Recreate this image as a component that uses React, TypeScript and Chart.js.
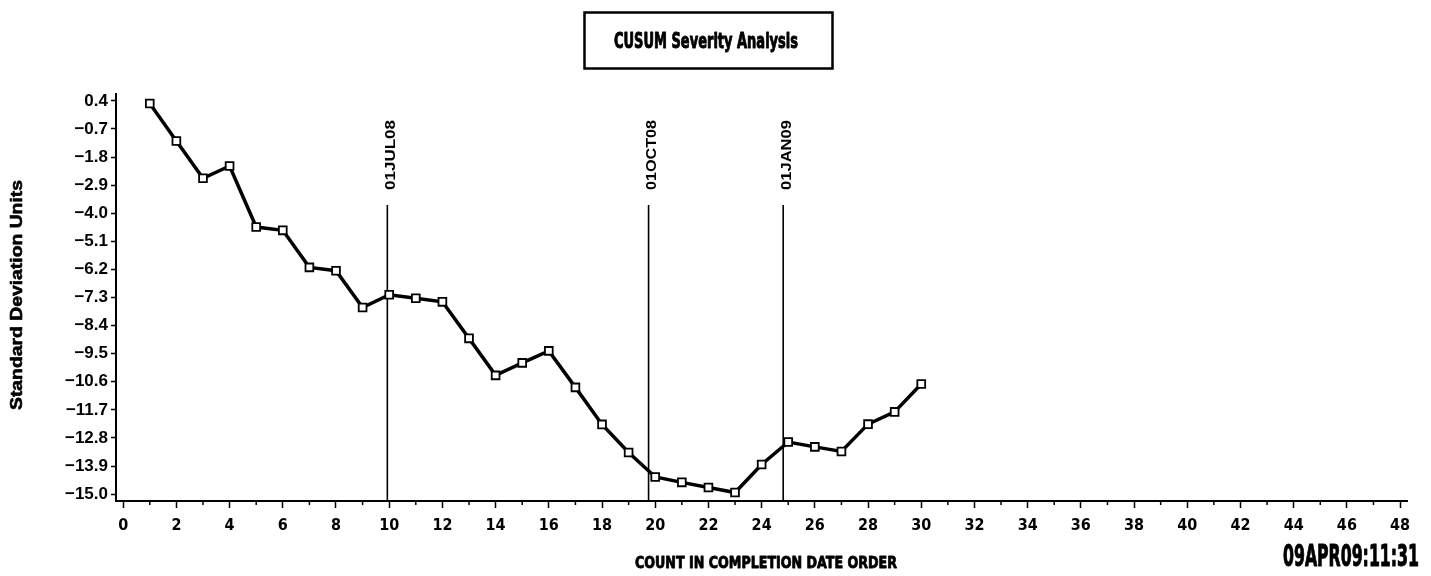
import React, { useEffect, useRef } from "react";
import { Chart, registerables } from "chart.js";

Chart.register(...registerables);

const COUNTS = [1, 2, 3, 4, 5, 6, 7, 8, 9, 10, 11, 12, 13, 14, 15, 16, 17, 18, 19, 20, 21, 22, 23, 24, 25, 26, 27, 28, 29, 30];
const CUSUM = [0.3, -1.17, -2.63, -2.15, -4.54, -4.67, -6.12, -6.25, -7.69, -7.19, -7.33, -7.47, -8.9, -10.35, -9.86, -9.39, -10.82, -12.27, -13.37, -14.33, -14.54, -14.74, -14.94, -13.84, -12.96, -13.15, -13.33, -12.26, -11.78, -10.69];
const Y_TICKS = [0.4, -0.7, -1.8, -2.9, -4.0, -5.1, -6.2, -7.3, -8.4, -9.5, -10.6, -11.7, -12.8, -13.9, -15.0];
const X_TICKS = Array.from({ length: 49 }, (_, i) => i);
const REF_POSITIONS = [9.93, 19.75, 24.81];
const REF_LABELS = ["01JUL08", "01OCT08", "01JAN09"];
const TITLE = "CUSUM Severity Analysis";
const X_TITLE = "COUNT IN COMPLETION DATE ORDER";
const Y_TITLE = "Standard Deviation Units";
const STAMP = "09APR09:11:31";

const NARROW = '"Liberation Sans Narrow", "DejaVu Sans Condensed", "Liberation Sans", sans-serif';
const SANS = '"Liberation Sans", Arial, sans-serif';

function fitText(ctx: CanvasRenderingContext2D, text: string, font: string, cx: number, cy: number, width: number, rot = 0, heavy = 0) {
  ctx.save();
  ctx.font = font;
  const w = ctx.measureText(text).width;
  ctx.translate(cx, cy);
  ctx.rotate(rot);
  ctx.scale(width / w, 1);
  ctx.textAlign = "center";
  ctx.textBaseline = "middle";
  ctx.fillStyle = "#000";
  ctx.fillText(text, 0, 0);
  if (heavy > 0) {
    ctx.lineWidth = heavy;
    ctx.strokeStyle = "#000";
    ctx.lineJoin = "round";
    ctx.strokeText(text, 0, 0);
  }
  ctx.restore();
}

const decor = {
  id: "decor",
  beforeDatasetsDraw(chart: any) {
    const ctx = chart.ctx as CanvasRenderingContext2D;
    const xs = chart.scales.x;
    const area = chart.chartArea;
    ctx.save();
    ctx.strokeStyle = "#000";
    ctx.lineWidth = 1.6;
    REF_POSITIONS.forEach((v, i) => {
      const px = xs.getPixelForValue(v);
      ctx.beginPath();
      ctx.moveTo(px, 205);
      ctx.lineTo(px, area.bottom);
      ctx.stroke();
      fitText(ctx, REF_LABELS[i], "bold 14px " + SANS, px + 3.5, 155, 70, -Math.PI / 2);
    });
    ctx.restore();
  },
  afterDraw(chart: any) {
    const ctx = chart.ctx as CanvasRenderingContext2D;
    const xs = chart.scales.x;
    const area = chart.chartArea;
    ctx.save();
    ctx.strokeStyle = "#000";
    ctx.lineWidth = 1.5;
    X_TICKS.forEach((v) => {
      if (v % 2 === 1) {
        const px = xs.getPixelForValue(v);
        ctx.beginPath();
        ctx.moveTo(px, area.bottom);
        ctx.lineTo(px, area.bottom + 4);
        ctx.stroke();
      }
    });
    ctx.lineWidth = 2.5;
    ctx.strokeRect(584.5, 12.5, 248, 56);
    fitText(ctx, TITLE, "bold 21px " + NARROW, 706, 43, 184, 0, 0.9);
    fitText(ctx, X_TITLE, "bold 16px " + NARROW, 766, 564, 262, 0, 0.8);
    fitText(ctx, Y_TITLE, "bold 16px " + SANS, 18, 295, 230, -Math.PI / 2, 0.6);
    fitText(ctx, STAMP, "bold 31px " + NARROW, 1351, 558, 136, 0, 1);
    ctx.restore();
  },
};

export default function App() {
  const ref = useRef<HTMLCanvasElement | null>(null);
  useEffect(() => {
    if (!ref.current) return;
    const chart = new Chart(ref.current, {
      type: "line",
      data: {
        datasets: [
          {
            data: COUNTS.map((c, i) => ({ x: c, y: CUSUM[i] })),
            borderColor: "#000",
            borderWidth: 3.5,
            pointStyle: "rect",
            pointRadius: 5.5,
            pointBorderWidth: 1.8,
            pointBorderColor: "#000",
            pointBackgroundColor: "#fff",
            tension: 0,
          },
        ],
      },
      options: {
        responsive: false,
        animation: false,
        events: [],
        layout: { padding: { top: 94, right: 24, bottom: 0, left: 0 } },
        plugins: { legend: { display: false }, tooltip: { enabled: false }, title: { display: false } },
        scales: {
          x: {
            type: "linear",
            min: -0.27,
            max: 48.26,
            afterBuildTicks: (s: any) => {
              s.ticks = X_TICKS.map((v) => ({ value: v }));
            },
            afterFit: (s: any) => {
              s.height = 75;
            },
            border: { display: true, color: "#000", width: 2 },
            grid: {
              drawOnChartArea: false,
              drawTicks: true,
              tickLength: 7,
              tickWidth: 1.5,
              tickColor: (c: any) => (c.tick && c.tick.value % 2 === 0 ? "#000" : "rgba(0,0,0,0)"),
            },
            ticks: {
              autoSkip: false,
              maxRotation: 0,
              minRotation: 0,
              padding: 8,
              color: "#000",
              font: { family: NARROW, size: 16, weight: "bold" },
              callback: (v: any) => (Number(v) % 2 === 0 ? String(v) : ""),
            },
          },
          y: {
            type: "linear",
            min: -15.27,
            max: 0.67,
            afterBuildTicks: (s: any) => {
              s.ticks = Y_TICKS.map((v) => ({ value: v }));
            },
            afterFit: (s: any) => {
              s.width = 116;
            },
            border: { display: true, color: "#000", width: 2 },
            grid: {
              drawOnChartArea: false,
              drawTicks: true,
              tickLength: 5,
              tickWidth: 1.5,
              tickColor: "#000",
            },
            ticks: {
              autoSkip: false,
              padding: 3,
              color: "#000",
              font: { family: SANS, size: 17, weight: "bold" },
              callback: (v: any) => Number(v).toFixed(1).replace("-", "\u2212"),
            },
          },
        },
      },
      plugins: [decor],
    });
    return () => chart.destroy();
  }, []);
  return (
    <div style={{ position: "fixed", left: 0, top: 0, width: 1431, height: 576, background: "#fff" }}>
      <canvas ref={ref} width={1431} height={576} style={{ width: 1431, height: 576, display: "block" }} />
    </div>
  );
}
